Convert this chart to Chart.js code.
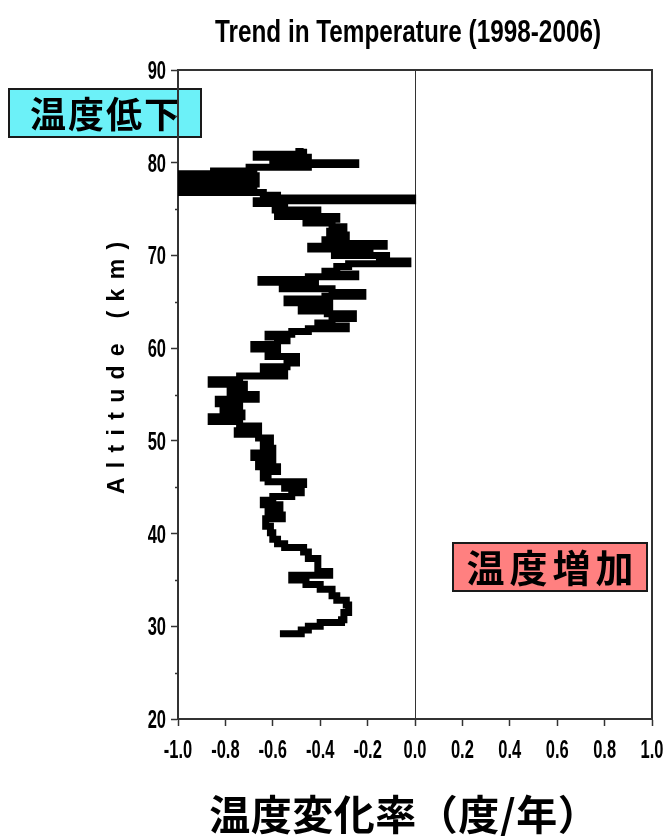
<!DOCTYPE html>
<html>
<head>
<meta charset="utf-8">
<script src="https://cdn.jsdelivr.net/npm/chart.js@4.4.1/dist/chart.umd.min.js"></script>
<style>
  html, body { margin: 0; padding: 0; background: #ffffff; }
  #wrap { position: relative; width: 664px; height: 836px; }
</style>
</head>
<body>
<div id="wrap"><canvas id="c" width="664" height="836"></canvas></div>
<script>
// Altitude levels (km) of the temperature-trend profile, bottom to top
const altitudeKm = [
  29.2, 29.6, 30.0, 30.4, 30.7, 31.5, 32.3, 32.8, 33.3, 34.0,
  34.5, 35.0, 35.5, 35.9, 36.4, 37.3, 38.0, 38.5, 38.9, 39.4,
  40.1, 40.8, 41.6, 42.0, 42.5, 43.1, 43.6, 44.0, 44.4, 44.9,
  45.3, 45.6, 46.0, 46.7, 47.2, 47.8, 48.2, 48.7, 49.2, 49.8,
  50.3, 50.7, 51.1, 51.6, 52.1, 52.6, 53.0, 53.5, 54.0, 54.5,
  55.0, 55.5, 56.1, 56.6, 57.0, 57.4, 58.0, 58.4, 59.1, 59.5,
  59.9, 60.4, 60.8, 61.2, 61.5, 61.8, 62.1, 62.4, 62.7, 63.2,
  63.7, 64.0, 64.4, 64.9, 65.3, 65.6, 66.0, 66.4, 66.8, 67.1,
  67.4, 67.7, 68.0, 68.3, 68.8, 69.1, 69.4, 69.7, 70.0, 70.3,
  70.7, 71.0, 71.3, 71.7, 72.2, 72.6, 73.1, 73.5, 73.9, 74.2,
  74.6, 74.9, 75.3, 75.6, 75.9, 76.2, 76.5, 76.8, 77.1, 77.4,
  77.7, 78.0, 78.3, 78.6, 78.8, 79.1, 79.3, 79.5, 79.8, 80.0,
  80.3, 80.6, 80.9, 81.2, 81.5
];

// Temperature trend (degrees per year) at each altitude level
const trendPerYear = [
  -0.57, -0.48, -0.45, -0.40, -0.31, -0.30, -0.28, -0.29, -0.33, -0.35,
  -0.40, -0.46, -0.52, -0.36, -0.41, -0.41, -0.45, -0.47, -0.55, -0.58,
  -0.60, -0.61, -0.63, -0.56, -0.62, -0.57, -0.64, -0.60, -0.52, -0.48,
  -0.55, -0.47, -0.62, -0.64, -0.58, -0.66, -0.60, -0.68, -0.60, -0.64,
  -0.61, -0.66, -0.75, -0.66, -0.74, -0.86, -0.73, -0.81, -0.74, -0.83,
  -0.67, -0.78, -0.72, -0.86, -0.74, -0.55, -0.64, -0.54, -0.50, -0.62,
  -0.58, -0.68, -0.58, -0.54, -0.62, -0.52, -0.45, -0.29, -0.41, -0.35,
  -0.26, -0.37, -0.48, -0.36, -0.54, -0.38, -0.22, -0.35, -0.56, -0.42,
  -0.65, -0.45, -0.25, -0.38, -0.33, -0.28, -0.03, -0.15, -0.12, -0.34,
  -0.19, -0.44, -0.13, -0.38, -0.29, -0.36, -0.30, -0.35, -0.46, -0.33,
  -0.58, -0.41, -0.59, -0.55, -0.67, -0.01, -0.58, -0.64, -1.00, -0.68,
  -1.00, -0.67, -1.00, -0.67, -1.00, -0.85, -0.68, -0.70, -0.45, -0.25,
  -0.60, -0.45, -0.67, -0.49, -0.47
];

// Axis tick values
const xTickValues = [-1.0, -0.8, -0.6, -0.4, -0.2, 0.0, 0.2, 0.4, 0.6, 0.8, 1.0];
const yTickValues = [20, 30, 40, 50, 60, 70, 80, 90];
const yMinorTickValues = [25, 35, 45, 55, 65, 75, 85];

// Texts
const chartTitle = 'Trend in Temperature (1998-2006)';
const yAxisTitle = 'Altitude (km)';
const xAxisTitle = '温度変化率（度/年）';
const coolingLabel = '温度低下';
const warmingLabel = '温度増加';

const SANS = "'Liberation Sans', Arial, sans-serif";
const CJK = "'Noto Sans CJK JP', 'Noto Sans CJK SC', sans-serif";
const AXIS_COLOR = '#333333';

// Horizontally condensed text (narrow bold face look)
function drawNarrow(ctx, text, x, y, align, sizePx, squeeze) {
  ctx.save();
  ctx.font = 'bold ' + sizePx + 'px ' + SANS;
  ctx.fillStyle = '#000000';
  ctx.translate(x, y);
  ctx.scale(squeeze, 1);
  ctx.textAlign = align;
  ctx.textBaseline = 'alphabetic';
  ctx.fillText(text, 0, 0);
  ctx.restore();
}

// Draw a string one character at a time with extra spacing, centred on (cx, cy)
function drawSpaced(ctx, text, cx, cy, spacing) {
  const chars = Array.from(text);
  const widths = chars.map(ch => ctx.measureText(ch).width);
  const total = widths.reduce((a, b) => a + b, 0) + spacing * (chars.length - 1);
  let x = cx - total / 2;
  ctx.textAlign = 'left';
  ctx.textBaseline = 'middle';
  chars.forEach((ch, i) => {
    ctx.fillText(ch, x, cy);
    x += widths[i] + spacing;
  });
}

function drawLabelBox(ctx, text, x, y, w, h, fill, fontSize, spacing) {
  ctx.save();
  ctx.fillStyle = fill;
  ctx.fillRect(x, y, w, h);
  ctx.lineWidth = 2;
  ctx.strokeStyle = '#1a1a1a';
  ctx.strokeRect(x, y, w, h);
  ctx.fillStyle = '#000000';
  ctx.font = 'bold ' + fontSize + 'px ' + CJK;
  drawSpaced(ctx, text, x + w / 2, y + h / 2 + 1, spacing);
  ctx.restore();
}

// Label boxes sit under the axes; frame, tick labels, minor ticks and titles on top
const decorations = {
  id: 'decorations',
  beforeDraw(chart) {
    const ctx = chart.ctx;
    drawLabelBox(ctx, coolingLabel, 9, 89, 192, 48, 'rgba(100, 240, 248, 0.95)', 36, 2);
    drawLabelBox(ctx, warmingLabel, 453, 543, 194, 48, '#ff8080', 38, 5);
  },
  afterDraw(chart) {
    const ctx = chart.ctx;
    const a = chart.chartArea;
    const xs = chart.scales.x;
    const ys = chart.scales.y;
    ctx.save();
    // top and right frame
    ctx.strokeStyle = AXIS_COLOR;
    ctx.lineWidth = 2;
    ctx.beginPath();
    ctx.moveTo(a.left, a.top);
    ctx.lineTo(a.right, a.top);
    ctx.lineTo(a.right, a.bottom);
    ctx.stroke();
    // minor ticks on the altitude axis
    ctx.lineWidth = 1.5;
    yMinorTickValues.forEach(v => {
      const py = Math.round(ys.getPixelForValue(v)) + 0.5;
      ctx.beginPath();
      ctx.moveTo(a.left - 3, py);
      ctx.lineTo(a.left, py);
      ctx.stroke();
    });
    ctx.restore();

    // tick labels in a condensed face
    const tickSize = 25, squeeze = 0.66;
    const capHalf = tickSize * 0.716 / 2;
    xs.ticks.forEach(t => {
      drawNarrow(ctx, Number(t.value).toFixed(1), xs.getPixelForValue(t.value), a.bottom + 39, 'center', tickSize, squeeze);
    });
    ys.ticks.forEach(t => {
      drawNarrow(ctx, String(t.value), a.left - 12, ys.getPixelForValue(t.value) + capHalf, 'right', tickSize, squeeze);
    });

    // chart title
    drawNarrow(ctx, chartTitle, 408, 42, 'center', 32, 0.76);

    // x axis title
    ctx.save();
    ctx.fillStyle = '#000000';
    ctx.font = 'bold 41px ' + CJK;
    drawSpaced(ctx, xAxisTitle, 404, 814, 0.5);
    ctx.restore();

    // rotated y axis title
    ctx.save();
    ctx.translate(118, 368);
    ctx.rotate(-Math.PI / 2);
    ctx.fillStyle = '#000000';
    ctx.font = 'bold 23px ' + SANS;
    drawSpaced(ctx, yAxisTitle, 0, 0, 9.3);
    ctx.restore();
  }
};

const profile = altitudeKm.map((alt, i) => ({ x: trendPerYear[i], y: alt }));

new Chart(document.getElementById('c'), {
  type: 'scatter',
  data: {
    datasets: [{
      data: profile,
      showLine: true,
      stepped: 'before',
      borderColor: '#000000',
      backgroundColor: '#000000',
      borderWidth: 7,
      borderJoinStyle: 'miter',
      borderCapStyle: 'butt',
      pointRadius: 0,
      fill: false,
      clip: 0
    }]
  },
  options: {
    responsive: false,
    animation: false,
    devicePixelRatio: 1,
    layout: { padding: { left: 0, right: 12, top: 70, bottom: 0 } },
    plugins: {
      legend: { display: false },
      tooltip: { enabled: false },
      title: { display: false }
    },
    scales: {
      x: {
        type: 'linear',
        min: -1,
        max: 1,
        afterBuildTicks: s => { s.ticks = xTickValues.map(v => ({ value: v })); },
        afterFit: s => { s.height = 117; s.paddingLeft = 0; s.paddingRight = 0; },
        ticks: {
          color: 'rgba(0,0,0,0)',
          font: { family: SANS, size: 16, weight: 'bold' },
          padding: 10,
          maxRotation: 0,
          autoSkip: false,
          callback: v => Number(v).toFixed(1)
        },
        grid: {
          drawOnChartArea: true,
          color: c => (c.tick && c.tick.value === 0) ? AXIS_COLOR : 'rgba(0,0,0,0)',
          lineWidth: 1,
          tickColor: AXIS_COLOR,
          tickLength: 7,
          tickWidth: 1.5
        },
        border: { display: true, color: AXIS_COLOR, width: 2 }
      },
      y: {
        type: 'linear',
        min: 20,
        max: 90,
        afterBuildTicks: s => { s.ticks = yTickValues.map(v => ({ value: v })); },
        afterFit: s => { s.width = 178; s.paddingTop = 0; s.paddingBottom = 0; },
        ticks: {
          color: 'rgba(0,0,0,0)',
          font: { family: SANS, size: 16, weight: 'bold' },
          padding: 4,
          autoSkip: false
        },
        grid: {
          drawOnChartArea: false,
          tickColor: AXIS_COLOR,
          tickLength: 7,
          tickWidth: 1.5
        },
        border: { display: true, color: AXIS_COLOR, width: 2 }
      }
    }
  },
  plugins: [decorations]
});
</script>
</body>
</html>
